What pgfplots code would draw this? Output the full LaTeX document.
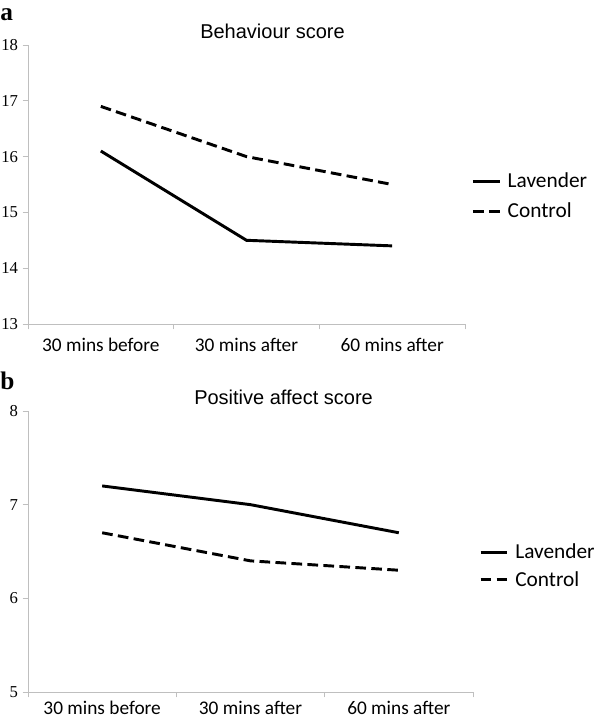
\documentclass[border=0pt]{standalone}
\usepackage{fontspec}
\setmainfont{Liberation Sans}
\newfontfamily\calibri{Carlito}
\newfontfamily\serif{Liberation Serif}
\usepackage{pgfplots}
\pgfplotsset{compat=1.18}

% image pixel -> point (600x719 px mapped to 450x539.25 pt)
\newcommand\px[2]{({#1*0.75pt},{(719-#2)*0.75pt})}

\pgfplotsset{
  panel/.style={
    scale only axis,
    xmin=-0.5, xmax=2.5,
    axis lines*=left,
    axis line style={gray!50, line width=0.7pt},
    every tick/.style={gray!50, line width=0.7pt},
    tick align=outside,
    major tick length=4pt,
    xtick={-0.5,0.5,1.5,2.5},
    xticklabels={,,,},
    extra x ticks={0,1,2},
    extra x tick labels={30 mins before,30 mins after,60 mins after},
    extra x tick style={major tick length=0pt,
      xticklabel style={font=\calibri\fontsize{14.5}{16}\selectfont}},
    yticklabel style={font=\serif\fontsize{12.5}{14}\selectfont},
    /pgf/number format/assume math mode=true,
    clip=false,
    legend cell align=left,
    legend image code/.code={\draw[#1] (0pt,0pt) -- (20pt,0pt);},
    legend style={anchor=west, draw=none, fill=none,
      font=\calibri\fontsize{16}{18}\selectfont, nodes={inner xsep=5pt}},
  },
  lav/.style={black, line width=2.2pt},
  ctl/.style={black, line width=2.2pt, dash pattern=on 8pt off 4pt},
}

\begin{document}
\begin{tikzpicture}
\useasboundingbox (0,0) rectangle (450pt,539.25pt);

% panel a
\begin{axis}[panel,
  at={(21pt,296.25pt)}, anchor=south west,
  width=327.75pt, height=209.25pt,
  ymin=13, ymax=18, ytick={13,14,15,16,17,18},
  extra x tick style={xticklabel style={yshift=-7pt}},
  legend style={at={(1.005,0.4575)}, row sep=6pt},
]
\addplot[lav] coordinates {(0,16.1) (1,14.5) (2,14.4)};
\addlegendentry{Lavender}
\addplot[ctl] coordinates {(0,16.9) (1,16.0) (2,15.5)};
\addlegendentry{Control}
\end{axis}

% panel b
\begin{axis}[panel,
  at={(21pt,20.25pt)}, anchor=south west,
  width=333.75pt, height=210.75pt,
  ymin=5, ymax=8, ytick={5,6,7,8},
  extra x tick style={xticklabel style={yshift=-3.5pt}},
  legend style={at={(1.004,0.448)}, row sep=4pt},
]
\addplot[lav] coordinates {(0,7.2) (1,7.0) (2,6.7)};
\addlegendentry{Lavender}
\addplot[ctl] coordinates {(0,6.7) (1,6.4) (2,6.3)};
\addlegendentry{Control}
\end{axis}

\node[anchor=base west, inner sep=0pt, font=\fontsize{15}{17}\selectfont] at \px{200}{39} {Behaviour score};
\node[anchor=base west, inner sep=0pt, font=\fontsize{15}{17}\selectfont] at \px{194}{405} {Positive affect score};
\node[anchor=west, font=\serif\bfseries\fontsize{19}{21}\selectfont, inner sep=0pt] at \px{0}{15} {a};
\node[anchor=west, font=\serif\bfseries\fontsize{19}{21}\selectfont, inner sep=0pt] at \px{0}{381} {b};
\end{tikzpicture}
\end{document}
